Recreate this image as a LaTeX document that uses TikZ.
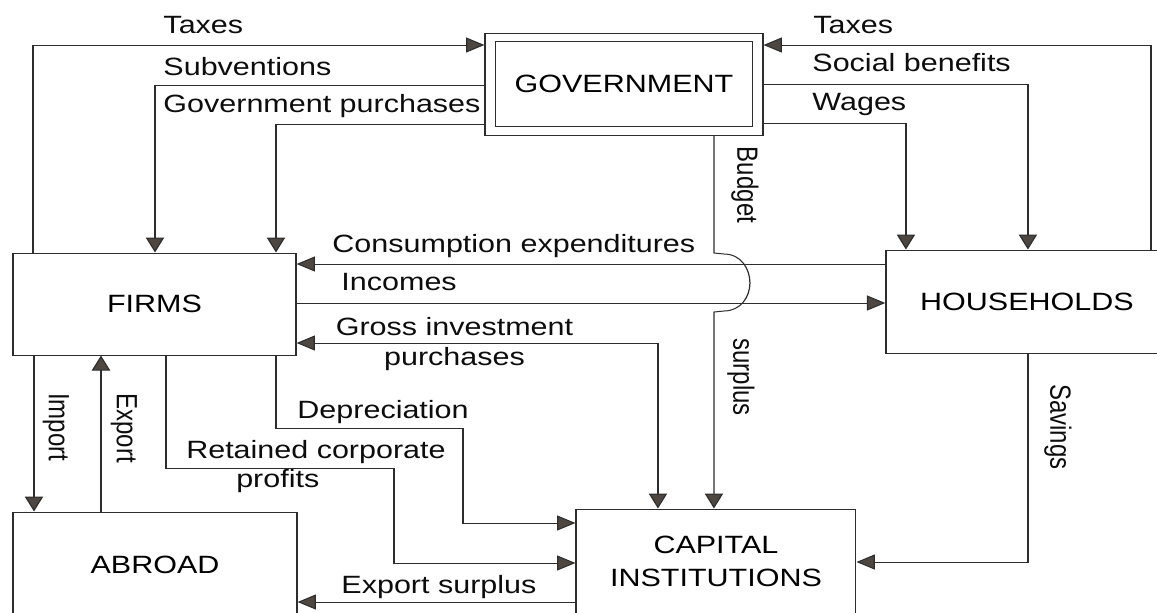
\documentclass[tikz,border=0pt]{standalone}
\usepackage{fontspec}
\setmainfont{Liberation Sans}
\usetikzlibrary{arrows.meta,calc}
\definecolor{wire}{RGB}{45,45,45}
\definecolor{headfill}{RGB}{78,70,64}
\tikzset{
    flow/.style={->, >={Triangle[length=7.5pt, width=7.5pt, fill=headfill]}, draw=wire, line width=0.5pt},
    sector/.style={draw=wire, line width=0.5pt, rectangle, inner sep=0pt, align=center, font=\fontsize{12.5}{16.5}\selectfont},
    lbl/.style={inner sep=0pt, text=black!95, font=\fontsize{12.5}{14.5}\selectfont},
    vlbl/.style={inner sep=0pt, rotate=-90, text=black!95, font=\fontsize{12}{14}\selectfont}
}

\begin{document}
\begin{tikzpicture}
    \useasboundingbox (0,0) rectangle (578.5pt,-306pt);
    \begin{scope}[transform canvas={xscale=1.22}, x=0.4098pt, y=-0.5pt]
        % sectors
        \node[sector, double=white, double distance=3.8pt, outer sep=2.4pt, minimum width=109.6pt, minimum height=46.75pt] (gov) at (624,84.25) {GOVERNMENT};
        \node[sector, minimum width=116pt, minimum height=51pt] (firms) at (154.5,304) {FIRMS};
        \node[sector, minimum width=115.6pt, minimum height=51.5pt] (households) at (1027,301.5) {HOUSEHOLDS};
        \node[sector, minimum width=114.7pt, minimum height=52pt] (capital) at (716,561) {CAPITAL\\INSTITUTIONS};
        \node[sector, minimum width=116.4pt, minimum height=53pt] (abroad) at (155,565) {ABROAD};

        % labels
        \node[lbl, anchor=base west] (taxesf) at (163,33) {Taxes};
        \node[lbl, anchor=base west] (subv) at (163,75) {Subventions};
        \node[lbl, anchor=base west] (govpur) at (163,112) {Government purchases};
        \node[lbl, anchor=base west] (taxesh) at (813,33) {Taxes};
        \node[lbl, anchor=base west] (social) at (812,71) {Social benefits};
        \node[lbl, anchor=base west] (wages) at (812,110) {Wages};
        \node[lbl, anchor=base west] (consum) at (332,252) {Consumption expenditures};
        \node[lbl, anchor=base west] (incomes) at (341,290) {Incomes};
        \node[lbl, align=center, font=\fontsize{12.5}{15}\selectfont] (grossinv) at (454.5,344) {Gross investment\\purchases};
        \node[lbl, anchor=base west] (deprec) at (297,418) {Depreciation};
        \node[lbl, align=left] (retained) at (316,467) {Retained corporate\\\hspace*{20.5pt}profits};
        \node[lbl, anchor=base west] (exsurp) at (341,593) {Export surplus};
        \node[vlbl] (budget) at (745,185) {Budget};
        \node[vlbl] (surplus) at (741,377) {surplus};
        \node[vlbl] (savings) at (1058,427) {Savings};
        \node[vlbl] (import) at (56,427) {Import};
        \node[vlbl] (export) at (124,428) {Export};

        % flows round the government
        \draw[flow] (33,0 |- firms.north) |- (gov.west |- 0,45);
        \draw[flow] (gov.west |- 0,85) -| (155,0 |- firms.north);
        \draw[flow] (gov.west |- 0,124) -| (276,0 |- firms.north);
        \draw[flow] (1151,0 |- households.north) |- (gov.east |- 0,45);
        \draw[flow] (gov.east |- 0,84) -| (1028,0 |- households.north);
        \draw[flow] (gov.east |- 0,123) -| (906,0 |- households.north);

        % firms and households
        \draw[flow] (households.west |- 0,264) -- (firms.east |- 0,264);
        \draw[flow] (firms.east |- 0,303) -- (households.west |- 0,303);
        \draw[flow, <->] (firms.east |- 0,343) -| (658,0 |- capital.north);
        \draw[flow] (714,0 |- gov.south) -- (714,253) -- (724,254) to[out=0, in=90] (750,283) to[out=-90, in=0] (724,311) -- (714,312) -- (714,0 |- capital.north);
        \draw[flow] (1028,0 |- households.south) |- (capital.east |- 0,562);

        % firms, abroad and capital
        \draw[flow] (34,0 |- firms.south) -- (34,0 |- abroad.north);
        \draw[flow] (101,0 |- abroad.north) -- (101,0 |- firms.south);
        \draw[flow] (276,0 |- firms.south) |- (463,428) |- (capital.west |- 0,523);
        \draw[flow] (166,0 |- firms.south) |- (394,468) |- (capital.west |- 0,563);
        \draw[flow] (capital.west |- 0,602) -- (abroad.east |- 0,602);
    \end{scope}
\end{tikzpicture}
\end{document}
